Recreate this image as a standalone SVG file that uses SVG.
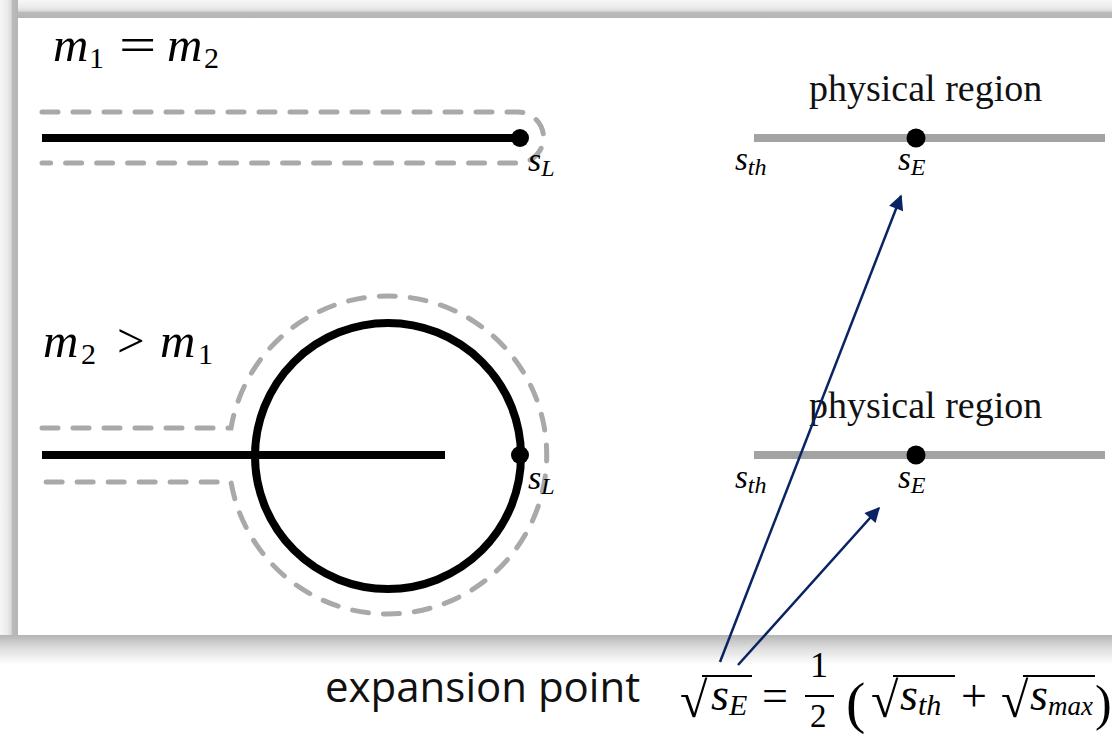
<svg xmlns="http://www.w3.org/2000/svg" width="1112" height="736" viewBox="0 0 1112 736">
<style>
.math{font-family:"Liberation Serif","DejaVu Serif",serif;font-style:italic;fill:#000}
.up{font-family:"Liberation Serif","DejaVu Serif",serif;font-style:normal;fill:#000}
.lbl{font-family:"Liberation Serif","DejaVu Serif",serif;font-size:38px;fill:#111}
.dash{fill:none;stroke:#a9a9a9;stroke-width:5;stroke-dasharray:16 15;stroke-linecap:round}
.cut{fill:none;stroke:#000;stroke-width:8}
.axis{stroke:#a3a3a3;stroke-width:8}
.conn{stroke:#0a2463;stroke-width:2.5;fill:none}
.sans{font-family:"Open Sans","Noto Sans",sans-serif;font-size:42px;fill:#111}
.bar{stroke:#000;stroke-width:2}
</style>
<defs>
<linearGradient id="gTop" x1="0" y1="0" x2="0" y2="1">
<stop offset="0" stop-color="#f7f7f7"/><stop offset="0.4" stop-color="#ebebeb"/><stop offset="0.62" stop-color="#dadada"/><stop offset="0.68" stop-color="#bbbbbb"/><stop offset="1" stop-color="#b4b4b4"/>
</linearGradient>
<linearGradient id="gLeft" x1="0" y1="0" x2="1" y2="0">
<stop offset="0" stop-color="#f7f7f7"/><stop offset="0.4" stop-color="#ebebeb"/><stop offset="0.62" stop-color="#dadada"/><stop offset="0.68" stop-color="#bbbbbb"/><stop offset="1" stop-color="#b4b4b4"/>
</linearGradient>
<linearGradient id="gBot" x1="0" y1="0" x2="0" y2="1">
<stop offset="0" stop-color="#b4b4b4"/><stop offset="0.2" stop-color="#c8c8c8"/><stop offset="0.45" stop-color="#dedede"/><stop offset="0.75" stop-color="#f1f1f1"/><stop offset="1" stop-color="#ffffff"/>
</linearGradient>
<marker id="ah" viewBox="0 0 10 10" refX="9" refY="5" markerWidth="7" markerHeight="6" markerUnits="strokeWidth" orient="auto">
<path d="M0,0 L10,5 L0,10 z" fill="#0a2463"/>
</marker>
</defs>

<g id="frame">
<rect x="0" y="0" width="1112" height="736" fill="#fff"/>
<rect x="0" y="0" width="1112" height="18" fill="url(#gTop)"/>
<rect x="0" y="0" width="18" height="650" fill="url(#gLeft)"/>
<rect x="0" y="635" width="1112" height="30" fill="url(#gBot)"/>
<rect x="18" y="18" width="1094" height="617" fill="#fff"/>
</g>

<g id="equal-mass">
<text class="math" x="53" y="61" font-size="49">m</text>
<text class="up" x="89" y="68" font-size="30">1</text>
<text class="up" transform="translate(119,61) scale(1.35,1)" font-size="49">=</text>
<text class="math" x="167" y="61" font-size="49">m</text>
<text class="up" x="204" y="68" font-size="30">2</text>
<path class="dash" d="M42,112 H518 A25.5,25.5 0 0 1 518,163 H42"/>
<line class="cut" x1="42" y1="138" x2="520" y2="138"/>
<circle cx="520" cy="138" r="9" fill="#000"/>
<text class="math" x="528" y="171" font-size="34">s<tspan font-size="24" dy="5">L</tspan></text>
</g>

<g id="unequal-mass">
<text class="math" x="43" y="357" font-size="49">m</text>
<text class="up" x="81" y="364" font-size="30">2</text>
<text class="up" x="117" y="357" font-size="49">&gt;</text>
<text class="math" x="160" y="357" font-size="49">m</text>
<text class="up" x="198" y="364" font-size="30">1</text>
<path class="dash" d="M42,428 H231 A159,159 0 1 1 231,482 H42"/>
<circle class="cut" cx="388" cy="456" r="133"/>
<line class="cut" x1="42" y1="455" x2="445" y2="455"/>
<circle cx="520" cy="455" r="9" fill="#000"/>
<text class="math" x="528" y="489" font-size="34">s<tspan font-size="24" dy="5">L</tspan></text>
</g>

<g id="physical-top">
<text class="lbl" x="809" y="101">physical region</text>
<line class="axis" x1="754" y1="138" x2="1105" y2="138"/>
<circle cx="916" cy="138" r="9.5" fill="#000"/>
<text class="math" x="735" y="170" font-size="33">s<tspan font-size="24" dy="5">th</tspan></text>
<text class="math" x="898" y="170" font-size="33">s<tspan font-size="24" dy="5">E</tspan></text>
</g>

<g id="physical-bottom">
<text class="lbl" x="809" y="418">physical region</text>
<line class="axis" x1="754" y1="455" x2="1105" y2="455"/>
<circle cx="916" cy="455" r="9.5" fill="#000"/>
<text class="math" x="735" y="488" font-size="33">s<tspan font-size="24" dy="5">th</tspan></text>
<text class="math" x="898" y="488" font-size="33">s<tspan font-size="24" dy="5">E</tspan></text>
</g>

<g id="expansion-point">
<text class="sans" x="325" y="702">expansion point</text>
<text class="up" x="680" y="717" font-size="50">√</text>
<line class="bar" x1="702" y1="676" x2="752" y2="676"/>
<text class="math" x="711" y="710" font-size="46">s<tspan font-size="30" dy="5">E</tspan></text>
<text class="up" x="762" y="711" font-size="46">=</text>
<text class="up" x="810" y="677" font-size="36">1</text>
<line class="bar" x1="805" y1="696" x2="834" y2="696"/>
<text class="up" x="810" y="727" font-size="33">2</text>
<text class="up" x="846" y="722" font-size="58">(</text>
<text class="up" x="871" y="717" font-size="50">√</text>
<line class="bar" x1="893" y1="676" x2="955" y2="676"/>
<text class="math" x="900" y="710" font-size="46">s<tspan font-size="30" dy="5">th</tspan></text>
<text class="up" x="961" y="711" font-size="46">+</text>
<text class="up" x="1001" y="717" font-size="50">√</text>
<line class="bar" x1="1023" y1="676" x2="1095" y2="676"/>
<text class="math" x="1030" y="710" font-size="46">s<tspan font-size="27" dy="5">max</tspan></text>
<text class="up" x="1095" y="720" font-size="50">)</text>
</g>

<g id="connectors">
<line class="conn" x1="720" y1="662" x2="901" y2="196" marker-end="url(#ah)"/>
<line class="conn" x1="738" y1="665" x2="879" y2="508" marker-end="url(#ah)"/>
</g>
</svg>
